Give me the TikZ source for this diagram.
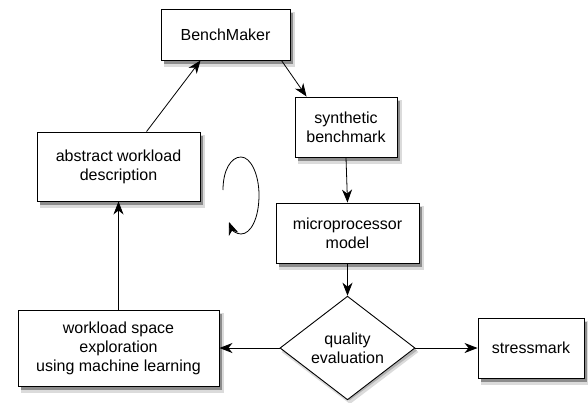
\documentclass[tikz,border=0pt]{standalone}
\usepackage{fontspec}
\setmainfont{Liberation Sans}
\usetikzlibrary{shapes.geometric,arrows.meta,calc}
\tikzset{
  txt/.style={font=\fontsize{16}{19}\selectfont, align=center, inner sep=0pt},
  mainbox/.style={draw=black, line width=0.9pt, fill=white, rectangle, txt},
  shadowout/.style={fill=black!14, draw=none, inner sep=0pt},
  shadowin/.style={fill=black!45, draw=none, inner sep=0pt},
  conn/.style={draw=black, line width=0.8pt, -{Stealth[length=13pt,width=10pt,inset=4pt]}}
}
\begin{document}
\begin{tikzpicture}[x=1pt,y=-1pt]
\useasboundingbox (0,0) rectangle (588,402);

% soft outer shadows
\node[shadowout, minimum width=131pt, minimum height=55pt] (benchO) at (229,39.5) {};
\node[shadowout, minimum width=104pt, minimum height=64pt] (synthO) at (349.5,132) {};
\node[shadowout, minimum width=165pt, minimum height=73pt] (absO) at (122,171.5) {};
\node[shadowout, minimum width=145pt, minimum height=64pt] (microO) at (351,238) {};
\node[shadowout, minimum width=203pt, minimum height=80pt] (wlO) at (122,353) {};
\node[shadowout, minimum width=108pt, minimum height=64pt] (stressO) at (534.5,353) {};
\node[shadowout, diamond, minimum width=137pt, minimum height=104pt] (qualO) at (350,352) {};
% darker inner shadows
\node[shadowin, minimum width=129pt, minimum height=51pt] (benchS) at (228,38) {};
\node[shadowin, minimum width=102pt, minimum height=60pt] (synthS) at (348.5,130.5) {};
\node[shadowin, minimum width=163pt, minimum height=69pt] (absS) at (121,170) {};
\node[shadowin, minimum width=143pt, minimum height=60pt] (microS) at (350,236.5) {};
\node[shadowin, minimum width=201pt, minimum height=76pt] (wlS) at (121,351.5) {};
\node[shadowin, minimum width=106pt, minimum height=60pt] (stressS) at (533.5,351.5) {};
\node[shadowout, fill=black!30, diamond, minimum width=135pt, minimum height=100pt] (qualS) at (349.5,350.5) {};

\node[mainbox, minimum width=129pt, minimum height=51pt] (bench) at (225.5,34.5) {BenchMaker};
\node[mainbox, minimum width=102pt, minimum height=60pt] (synth) at (346,127) {synthetic\\benchmark};
\node[mainbox, minimum width=163pt, minimum height=69pt] (abs) at (118.5,166.5) {abstract workload\\description};
\node[mainbox, minimum width=143pt, minimum height=60pt] (micro) at (347.5,233) {microprocessor\\model};
\node[mainbox, minimum width=201pt, minimum height=76pt] (wl) at (118.5,348) {workload space\\exploration\\using machine learning};
\node[mainbox, minimum width=106pt, minimum height=60pt] (stress) at (531,348) {stressmark};
\node[mainbox, diamond, minimum width=135pt, minimum height=100pt] (qual) at (347.5,348) {quality\\evaluation};

\coordinate (bs) at ($(bench.south east)+(-9,0)$);
\coordinate (st) at ($(synth.north west)+(12,0)$);
\coordinate (at) at ($(abs.north west)+(110,0)$);
\coordinate (bb) at ($(bench.south west)+(40,0)$);

\draw[conn] (bs) -- (st);
\draw[conn] (at) -- (bb);
\draw[conn] (synth.south) -- (micro.north);
\draw[conn] (micro.south) -- (qual.north);
\draw[conn] (qual.west) -- (wl.east);
\draw[conn] (qual.east) -- (stress.west);
\draw[conn] (wl.north) -- (abs.south);

\coordinate (c0) at (223,190);
\coordinate (c1) at (229,222);
\draw[conn] (c0) .. controls (223,170) and (231,157) .. (241,157)
  .. controls (251,157) and (259,175) .. (259,195)
  .. controls (259,218) and (251,234) .. (241,234)
  .. controls (236,234) and (232,230) .. (c1);
\end{tikzpicture}
\end{document}
